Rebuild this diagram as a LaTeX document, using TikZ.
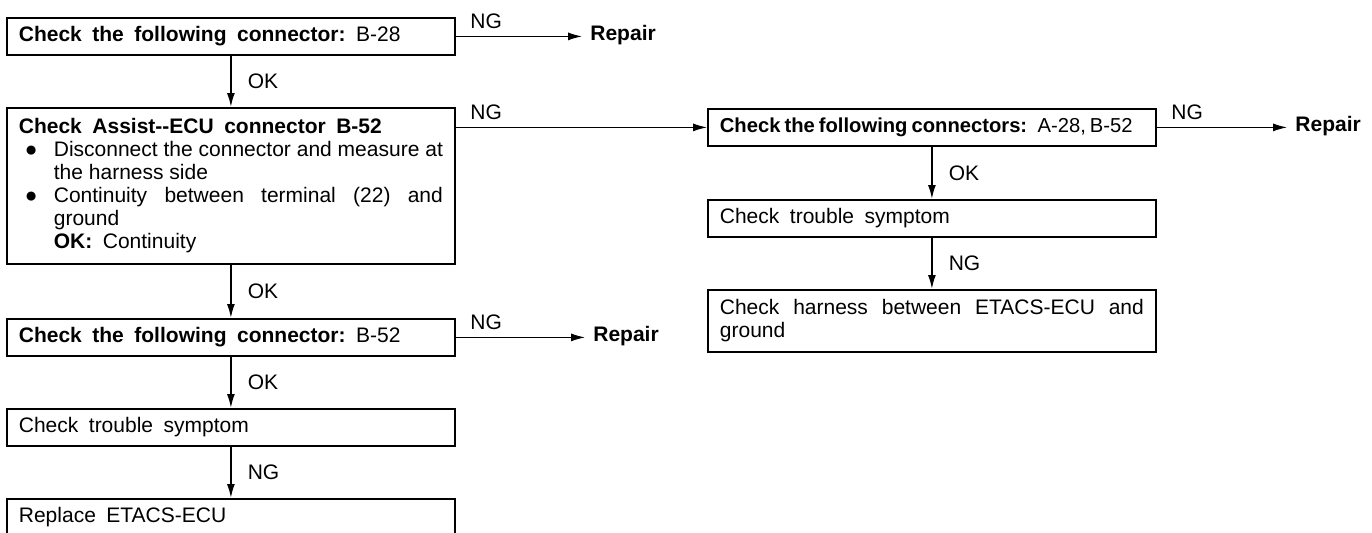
\documentclass[tikz,border=0pt]{standalone}
\usepackage{fontspec}
\setmainfont{Liberation Sans}
\usetikzlibrary{arrows.meta}
\newlength{\bulletw}
\setlength{\bulletw}{17.5pt}
% wide word spacing used in the single-line boxes
\newcommand{\widesp}{\spaceskip=0.5em plus 0.2em minus 0.1em\relax}
\newcommand{\bulletitem}{\par\hangindent=\bulletw\hangafter=1\noindent\makebox[\bulletw][l]{\hspace{3pt}●}}
\begin{document}
\begin{tikzpicture}[x=0.5pt,y=-0.5pt,
  font=\fontsize{10.5}{11.5}\selectfont,
  box/.style={draw, line width=0.9pt, anchor=north west, inner xsep=6pt, inner ysep=1pt,
    text width=212pt, align=justify},
  single/.style={box, minimum height=18.5pt, align=left},
  varr/.style={line width=0.9pt, -{Latex[length=7pt,width=4pt]}},
  harr/.style={line width=0.6pt, -{Latex[length=7pt,width=4pt]}},
  oklbl/.style={inner sep=1pt, right=7pt},
  nglbl/.style={inner sep=1pt, pos=0, anchor=south west, xshift=6pt, yshift=2.5pt},
  repair/.style={anchor=west, inner sep=0pt, font=\fontsize{10.5}{11.5}\selectfont\bfseries}]
\useasboundingbox (0,0) rectangle (1372,532);

% left column
\node[single] (L1) at (6,17)
  {\widesp\textbf{Check the following connector:} B-28};
\node[box, minimum height=78pt] (L2) at (6,107)
  {{\widesp\textbf{Check Assist-{}-ECU connector B-52}}%
   \bulletitem Disconnect the connector and measure at\linebreak the harness side%
   \bulletitem Continuity between terminal (22) and\linebreak ground\par
   \noindent\hspace*{\bulletw}\textbf{OK:}\enspace Continuity};
\node[single] (L3) at (6,318)
  {\widesp\textbf{Check the following connector:} B-52};
\node[single] (L4) at (6,408)
  {\widesp Check trouble symptom};
\node[single] (L5) at (6,498)
  {\widesp Replace ETACS-ECU};

% right column
\node[single] (R1) at (707,108)
  {\fontsize{10.1}{11.5}\selectfont\spaceskip=0.2em\relax
   \textbf{Check the following connectors:} A-28, B-52};
\node[single] (R2) at (707,199)
  {\widesp Check trouble symptom};
\node[box, minimum height=31pt] (R3) at (707,289)
  {Check harness between ETACS-ECU and\linebreak ground};

% repair targets
\node[repair] (rep1) at (590,35.5) {Repair};
\node[repair] (rep2) at (593,336.5) {Repair};
\node[repair] (rep3) at (1295,126.5) {Repair};

% vertical OK / NG steps
\draw[varr] (L1.south) -- node[oklbl] {OK} (L2.north);
\draw[varr] (L2.south) -- node[oklbl] {OK} (L3.north);
\draw[varr] (L3.south) -- node[oklbl] {OK} (L4.north);
\draw[varr] (L4.south) -- node[oklbl] {NG} (L5.north);
\draw[varr] (R1.south) -- node[oklbl] {OK} (R2.north);
\draw[varr] (R2.south) -- node[oklbl] {NG} (R3.north);

% horizontal NG branches
\draw[harr, shorten >=4pt] (L1.east) -- node[nglbl] {NG} (rep1.west |- L1.east);
\draw[harr, shorten >=4pt] (L3.east) -- node[nglbl] {NG} (rep2.west |- L3.east);
\draw[harr, shorten >=4pt] (R1.east) -- node[nglbl] {NG} (rep3.west |- R1.east);
\draw[harr] (L2.east |- R1.west) -- node[nglbl] {NG} (R1.west);
\end{tikzpicture}
\end{document}
